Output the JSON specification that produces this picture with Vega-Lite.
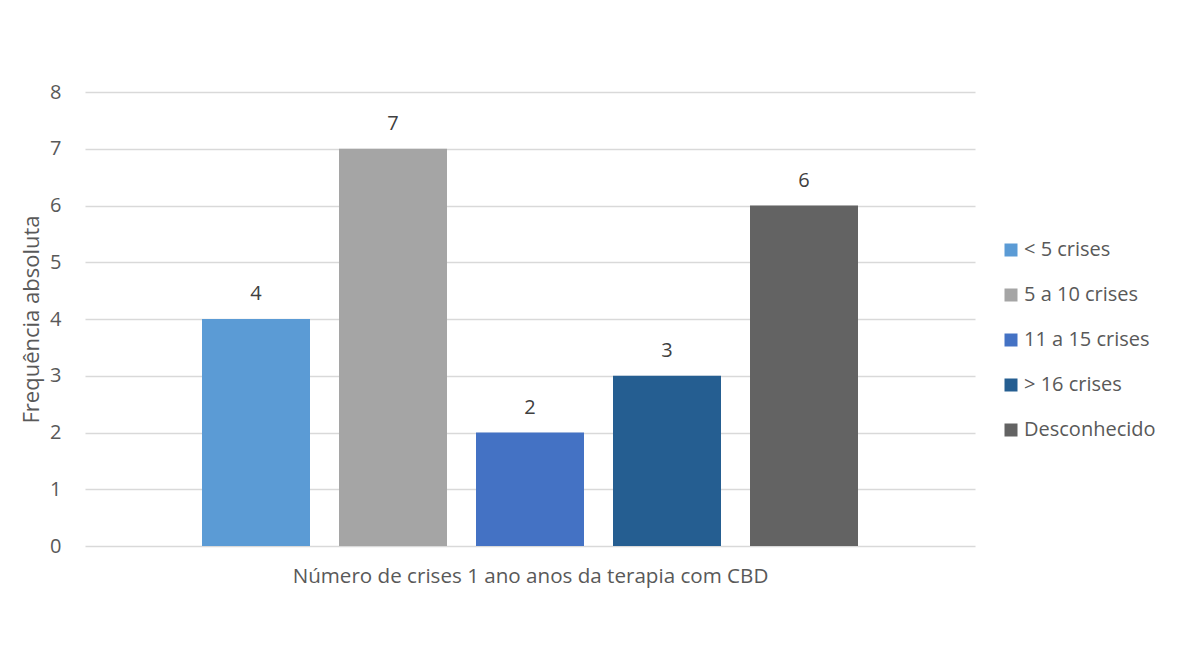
{
  "$schema": "https://vega.github.io/schema/vega-lite/v6.json",
  "width": 890,
  "height": 454,
  "autosize": {"type": "none"},
  "padding": {"left": 85, "top": 92, "right": 206, "bottom": 120},
  "background": "white",
  "config": {
    "view": {"stroke": null},
    "font": "Open Sans",
    "axis": {"labelFont": "Open Sans", "titleFont": "Open Sans", "labelColor": "#595959", "titleColor": "#595959", "labelFontSize": 20, "titleFontSize": 20.6, "titleFontWeight": "normal"},
    "legend": {"labelFont": "Open Sans", "labelColor": "#595959", "labelFontSize": 20}
  },
  "data": {
    "values": [
      {"serie": "< 5 crises", "valor": 4},
      {"serie": "5 a 10 crises", "valor": 7},
      {"serie": "11 a 15 crises", "valor": 2},
      {"serie": "> 16 crises", "valor": 3},
      {"serie": "Desconhecido", "valor": 6}
    ]
  },
  "encoding": {
    "x": {
      "field": "serie",
      "type": "nominal",
      "sort": null,
      "scale": {"paddingInner": 0.2117, "paddingOuter": 0.854},
      "axis": {"labels": false, "ticks": false, "domain": false, "title": "Número de crises 1 ano anos da terapia com CBD", "titlePadding": 20}
    },
    "y": {
      "field": "valor",
      "type": "quantitative",
      "scale": {"domain": [0, 8], "nice": false},
      "axis": {"values": [0, 1, 2, 3, 4, 5, 6, 7, 8], "labelOverlap": false, "title": "Frequência absoluta", "titleFontSize": 22, "domain": false, "ticks": false, "labelPadding": 24, "gridColor": "#D9D9D9", "gridWidth": 1.3, "titlePadding": 6}
    }
  },
  "layer": [
    {
      "mark": {"type": "bar"},
      "encoding": {
        "color": {
          "field": "serie",
          "type": "nominal",
          "sort": null,
          "scale": {"domain": ["< 5 crises", "5 a 10 crises", "11 a 15 crises", "> 16 crises", "Desconhecido"], "range": ["#5B9BD5", "#A5A5A5", "#4472C4", "#255E91", "#636363"]},
          "legend": {"title": null, "orient": "none", "legendX": 916, "legendY": 148, "symbolType": "square", "symbolSize": 169, "symbolStrokeWidth": 0, "rowPadding": 25, "labelOffset": 3}
        }
      }
    },
    {
      "mark": {"type": "text", "dy": -25, "fontSize": 20, "color": "#404040", "font": "Open Sans"},
      "encoding": {"text": {"field": "valor", "type": "quantitative"}}
    }
  ]
}
